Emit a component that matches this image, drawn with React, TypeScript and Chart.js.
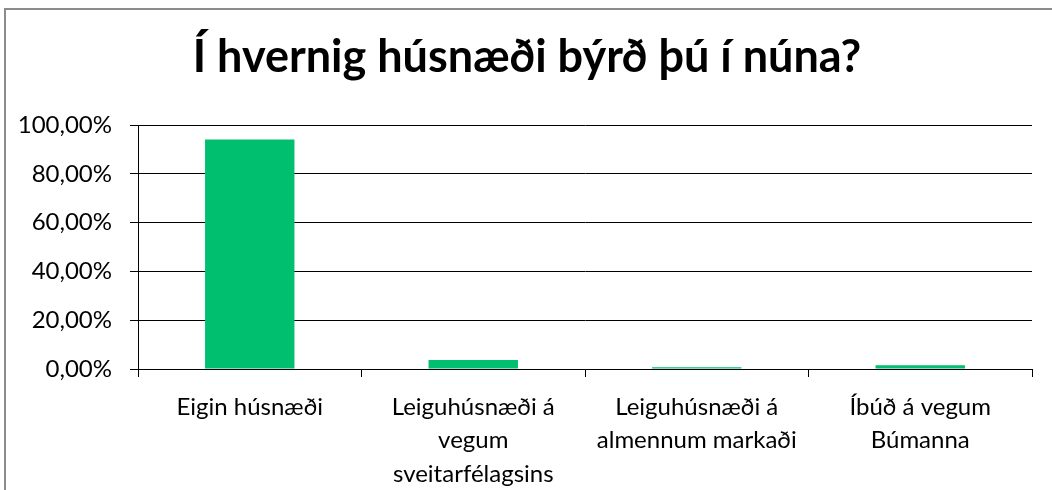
import React, { useEffect, useRef } from "react";
import { Chart, registerables } from "chart.js";

Chart.register(...registerables);

const TITLE = "Í hvernig húsnæði býrð þú í núna?";
const CATEGORIES: string[][] = [
  ["Eigin húsnæði"],
  ["Leiguhúsnæði á", "vegum", "sveitarfélagsins"],
  ["Leiguhúsnæði á", "almennum markaði"],
  ["Íbúð á vegum", "Búmanna"],
];
const VALUES: number[] = [94.1, 3.7, 0.7, 1.5];
const Y_MIN = 0;
const Y_MAX = 100;
const Y_STEP = 20;

const FONT = "Lato, 'Open Sans', sans-serif";

export default function App() {
  const ref = useRef<HTMLCanvasElement | null>(null);

  useEffect(() => {
    if (!ref.current) return;
    const frame = {
      id: "frame",
      beforeDraw(chart: any) {
        const ctx = chart.ctx;
        ctx.save();
        ctx.fillStyle = "#ffffff";
        ctx.fillRect(0, 0, chart.width, chart.height);
        ctx.strokeStyle = "#8c8c8c";
        ctx.lineWidth = 2;
        ctx.strokeRect(5, 9, 1200, 700);
        ctx.restore();
      },
      afterDraw(chart: any) {
        const ctx = chart.ctx;
        ctx.save();
        ctx.fillStyle = "#000000";
        ctx.font = `bold 45px ${FONT}`;
        ctx.textAlign = "center";
        ctx.textBaseline = "alphabetic";
        ctx.fillText(TITLE, 527, 72);
        ctx.restore();
      },
    };

    const chart = new Chart(ref.current, {
      type: "bar",
      data: {
        labels: CATEGORIES,
        datasets: [
          {
            data: VALUES,
            backgroundColor: "#00BF6F",
            borderWidth: 0,
            barPercentage: 0.4,
            categoryPercentage: 1,
          },
        ],
      },
      options: {
        animation: false,
        responsive: false,
        maintainAspectRatio: false,
        devicePixelRatio: 1,
        layout: { padding: { left: 0, top: 125, right: 20, bottom: 0 } },
        plugins: {
          legend: { display: false },
          title: { display: false },
          tooltip: { enabled: false },
        },
        scales: {
          x: {
            afterFit(scale: any) {
              scale.height = 121;
            },
            grid: {
              offset: true,
              drawOnChartArea: false,
              drawTicks: true,
              tickLength: 8,
              color: "#000000",
              lineWidth: 1,
            },
            border: { display: true, color: "#000000", width: 1 },
            ticks: {
              color: "#000000",
              font: { family: FONT, size: 24, lineHeight: 1.38 },
              maxRotation: 0,
              autoSkip: false,
              padding: 14,
            },
          },
          y: {
            min: Y_MIN,
            max: Y_MAX,
            afterFit(scale: any) {
              scale.width = 138;
            },
            grid: {
              color: "#000000",
              lineWidth: 1,
              tickLength: 8,
              drawTicks: true,
            },
            border: { display: true, color: "#000000", width: 1 },
            ticks: {
              stepSize: Y_STEP,
              color: "#000000",
              font: { family: FONT, size: 24 },
              padding: 18,
              callback: (v: any) => Number(v).toFixed(2).replace(".", ",") + "%",
            },
          },
        },
      },
      plugins: [frame],
    } as any);

    return () => chart.destroy();
  }, []);

  return (
    <div style={{ position: "fixed", left: 0, top: 0, width: 1052, height: 490, background: "#fff" }}>
      <canvas ref={ref} width={1052} height={490} style={{ width: 1052, height: 490, display: "block" }} />
    </div>
  );
}
